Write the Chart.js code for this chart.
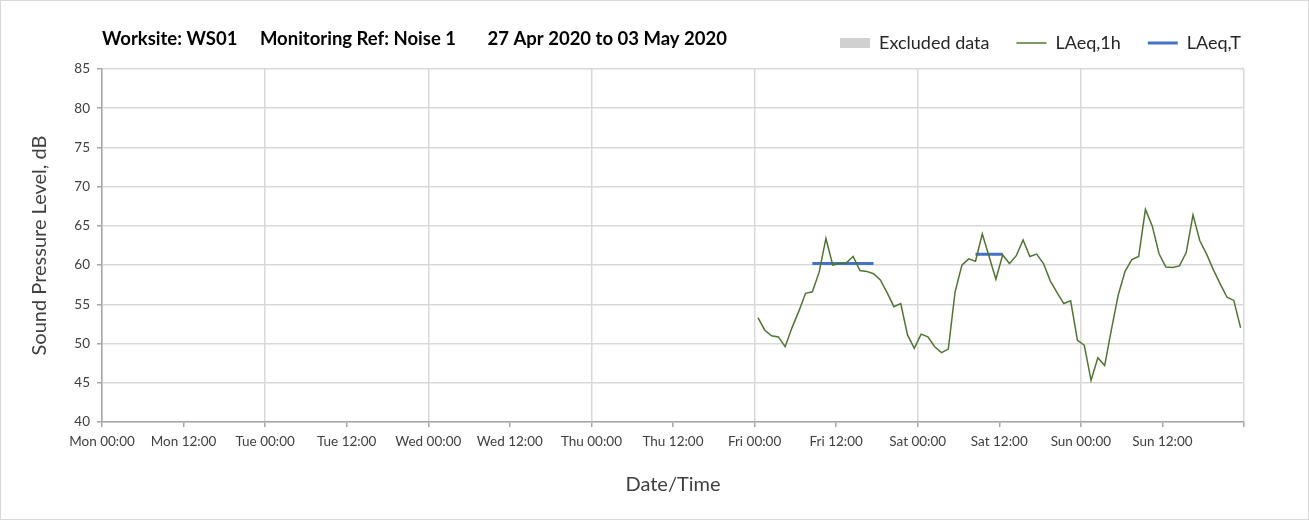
<!DOCTYPE html>
<html><head><meta charset="utf-8">
<script src="https://cdn.jsdelivr.net/npm/chart.js@4/dist/chart.umd.min.js"></script>
<style>html,body{margin:0;padding:0;background:#fff}</style>
</head><body>
<canvas id="c" width="1309" height="520"></canvas>
<script>
// ---- data ----
const chartTitle = 'Worksite: WS01     Monitoring Ref: Noise 1       27 Apr 2020 to 03 May 2020';
const xAxisTitle = 'Date/Time';
const yAxisTitle = 'Sound Pressure Level, dB';
const xTickLabels = ['Mon 00:00','Mon 12:00','Tue 00:00','Tue 12:00','Wed 00:00','Wed 12:00',
  'Thu 00:00','Thu 12:00','Fri 00:00','Fri 12:00','Sat 00:00','Sat 12:00','Sun 00:00','Sun 12:00'];
const yTicks = [40,45,50,55,60,65,70,75,80,85];
// hours since Mon 00:00 at which each day starts
const dayStartFri = 96, dayStartSat = 120, dayStartSun = 144;
// hourly LAeq,1h (dB), one value per hour 00:00..23:00
const laeq1hFri = [53.3,51.7,51.0,50.85,49.6,52.0,54.1,56.4,56.6,59.1,63.4,60.0,
                   60.2,60.3,61.1,59.3,59.2,58.9,58.1,56.5,54.7,55.1,51.1,49.4];
const laeq1hSat = [51.2,50.85,49.6,48.85,49.3,56.6,60.0,60.8,60.5,64.0,61.1,58.2,
                   61.3,60.2,61.2,63.2,61.1,61.4,60.2,58.0,56.5,55.1,55.45,50.4];
const laeq1hSun = [49.8,45.3,48.2,47.2,51.8,56.2,59.2,60.7,61.1,67.1,65.0,61.45,
                   59.75,59.7,59.9,61.6,66.4,63.1,61.4,59.4,57.6,55.9,55.5,52.0];
// LAeq,T periods (hours since Mon 00:00) and levels
const laeqTStart = [104.5, 128.5];
const laeqTEnd   = [113.5, 132.5];
const laeqTValue = [60.2, 61.4];

// ---- build datasets ----
function dayPoints(start, vals){ return vals.map((v,i)=>({x:start+i+0.5, y:v})); }
const laeq1hPoints = [].concat(dayPoints(dayStartFri, laeq1hFri), dayPoints(dayStartSat, laeq1hSat), dayPoints(dayStartSun, laeq1hSun));
const laeqTPoints = [];
laeqTStart.forEach((s,i)=>{
  laeqTPoints.push({x:s, y:laeqTValue[i]}, {x:laeqTEnd[i], y:laeqTValue[i]}, {x:laeqTEnd[i]+0.01, y:null});
});

const FONT = 'Lato, "Open Sans", sans-serif';
const bgPlugin = {
  id:'bg',
  beforeDraw(chart){
    const c = chart.ctx; c.save();
    c.fillStyle='#fff'; c.fillRect(0,0,chart.width,chart.height);
    c.strokeStyle='#d9d9d9'; c.lineWidth=1; c.strokeRect(0.5,0.5,chart.width-1,chart.height-1);
    c.restore();
  }
};

new Chart(document.getElementById('c'), {
  type:'line',
  data:{datasets:[
    {label:'Excluded data', data:[], backgroundColor:'#d0d0d0', borderColor:'#d0d0d0', borderWidth:0, pointStyle:'rect', showLine:false},
    {label:'LAeq,1h', data:laeq1hPoints, borderColor:'#4f7533', backgroundColor:'#4f7533', borderWidth:1.5, pointRadius:0, pointStyle:'line', tension:0},
    {label:'LAeq,T', data:laeqTPoints, borderColor:'#4472c4', backgroundColor:'#4472c4', borderWidth:3, pointRadius:0, pointStyle:'line', spanGaps:false}
  ]},
  options:{
    responsive:false, animation:false,
    layout:{padding:{top:7,right:41,bottom:0,left:0}},
    plugins:{
      tooltip:{enabled:false},
      legend:{position:'top', align:'end', weight:1000,
        labels:{usePointStyle:true, pointStyleWidth:30, boxHeight:10, padding:27, color:'#262626',
          font:{family:FONT, size:18}}},
      title:{display:true, text:chartTitle, align:'start', position:'top', fullSize:false, weight:500,
        color:'#000', font:{family:FONT, size:18.5, weight:'bold', lineHeight:1.2},
        padding:{top:-34.1, bottom:18.9}}
    },
    scales:{
      x:{type:'linear', min:0, max:168,
        afterFit(s){ s.height = 98; },
        ticks:{stepSize:12, autoSkip:false, maxRotation:0, padding:7, color:'#404040',
          font:{family:FONT, size:13.5},
          callback:(v)=> (xTickLabels[v/12] !== undefined ? xTickLabels[v/12] : '')},
        grid:{color:(ctx)=> (ctx.tick && ctx.tick.value % 24 === 0 ? '#d9d9d9' : 'rgba(0,0,0,0)'),
          tickColor:'#a6a6a6', tickLength:5, lineWidth:1.5},
        border:{color:'#a6a6a6', width:1.5},
        title:{display:true, text:xAxisTitle, color:'#404040', font:{family:FONT, size:20, lineHeight:1.2},
          padding:{top:0, bottom:23}}
      },
      y:{type:'linear', min:40, max:85,
        afterFit(s){ s.width = 102; },
        afterBuildTicks(s){ s.ticks = yTicks.map(v=>({value:v})); },
        ticks:{padding:7, color:'#404040', font:{family:FONT, size:13.5}},
        grid:{color:'#d9d9d9', tickColor:'#a6a6a6', tickLength:5, lineWidth:1.5},
        border:{color:'#a6a6a6', width:1.5},
        title:{display:true, text:yAxisTitle, color:'#404040', font:{family:FONT, size:20, lineHeight:1.2},
          padding:{top:28, bottom:0}}
      },
      yR:{type:'linear', position:'right', display:true,
        afterFit(s){ s.width = 24; },
        ticks:{display:false}, grid:{display:false}, border:{display:false}}
    }
  },
  plugins:[bgPlugin]
});
</script>
</body></html>
